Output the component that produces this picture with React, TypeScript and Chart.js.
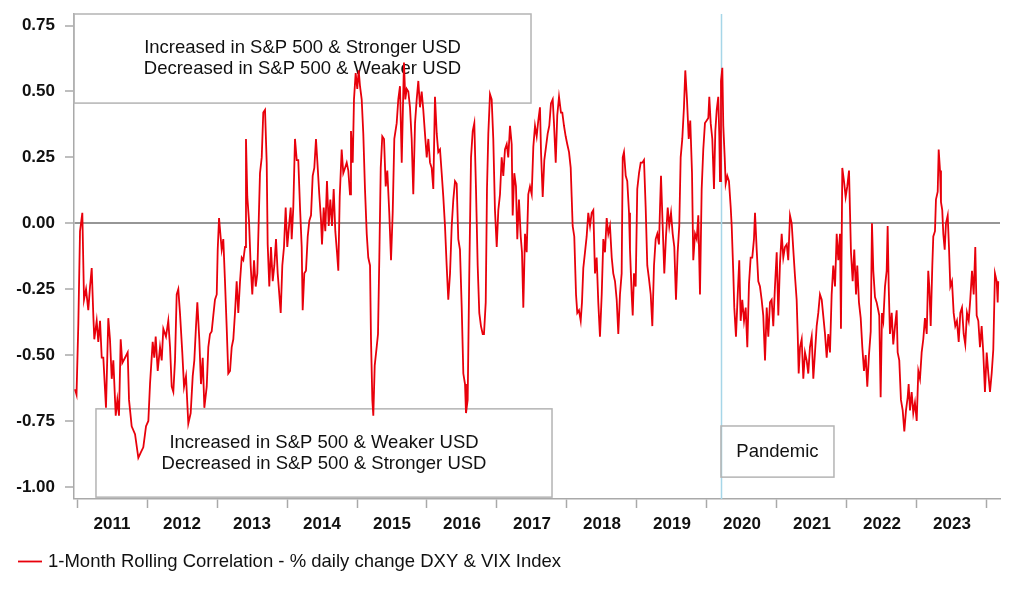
import React, { useEffect, useRef } from "react";
import { Chart, registerables } from "chart.js";

Chart.register(...registerables);

// Decimal-year dates of the readings
const dates: number[] = [
  2010.971, 2010.993, 2011.019, 2011.043, 2011.076, 2011.100, 2011.129, 2011.161, 2011.186, 2011.210,
  2011.233, 2011.247, 2011.281, 2011.304, 2011.329, 2011.353, 2011.376, 2011.400, 2011.414, 2011.447,
  2011.471, 2011.496, 2011.519, 2011.553, 2011.576, 2011.600, 2011.624, 2011.647, 2011.686, 2011.724,
  2011.743, 2011.781, 2011.829, 2011.876, 2011.910, 2011.947, 2011.986, 2012.019, 2012.043, 2012.081,
  2012.104, 2012.124, 2012.153, 2012.186, 2012.210, 2012.233, 2012.271, 2012.304, 2012.329, 2012.353,
  2012.376, 2012.400, 2012.424, 2012.447, 2012.471, 2012.504, 2012.529, 2012.557, 2012.590, 2012.624,
  2012.653, 2012.676, 2012.700, 2012.719, 2012.747, 2012.771, 2012.796, 2012.819, 2012.853, 2012.876,
  2012.900, 2012.924, 2012.947, 2012.971, 2012.996, 2013.010, 2013.029,
  2013.067, 2013.090, 2013.114, 2013.139, 2013.161, 2013.186, 2013.210, 2013.233, 2013.257, 2013.281,
  2013.304, 2013.329, 2013.353, 2013.376, 2013.400, 2013.414, 2013.433, 2013.457, 2013.481, 2013.504,
  2013.529, 2013.553, 2013.576, 2013.596, 2013.614, 2013.639, 2013.661, 2013.686, 2013.710, 2013.724,
  2013.747, 2013.771, 2013.796, 2013.819, 2013.843, 2013.867, 2013.890, 2013.910, 2013.933, 2013.957,
  2013.981, 2014.004, 2014.029, 2014.053, 2014.067, 2014.090, 2014.114, 2014.139, 2014.161, 2014.186,
  2014.210, 2014.224, 2014.247, 2014.271, 2014.296, 2014.319, 2014.343, 2014.367, 2014.390, 2014.414,
  2014.439, 2014.461, 2014.486, 2014.500, 2014.524, 2014.547, 2014.571, 2014.596, 2014.619, 2014.643,
  2014.667, 2014.690, 2014.714, 2014.733, 2014.753,
  2014.781, 2014.804, 2014.829, 2014.853, 2014.876, 2014.900, 2014.914, 2014.939, 2014.957, 2014.981,
  2015.004, 2015.024, 2015.043, 2015.067, 2015.090, 2015.114, 2015.139, 2015.161, 2015.186, 2015.200,
  2015.219, 2015.233, 2015.253, 2015.281, 2015.300, 2015.319, 2015.339, 2015.361, 2015.386, 2015.410,
  2015.433, 2015.461, 2015.486, 2015.510, 2015.533, 2015.567, 2015.590, 2015.614, 2015.639, 2015.653,
  2015.671, 2015.690, 2015.710, 2015.733, 2015.757, 2015.781, 2015.804, 2015.829, 2015.853, 2015.876,
  2015.900, 2015.924, 2015.947, 2015.971, 2015.996, 2016.019, 2016.043, 2016.067, 2016.090, 2016.114,
  2016.139, 2016.161, 2016.186, 2016.210, 2016.233, 2016.257, 2016.281, 2016.304, 2016.329, 2016.353,
  2016.376, 2016.400, 2016.424, 2016.447, 2016.471, 2016.496, 2016.519, 2016.543, 2016.557, 2016.581,
  2016.604, 2016.629, 2016.653, 2016.676, 2016.700, 2016.724, 2016.747,
  2016.771, 2016.796, 2016.814, 2016.839, 2016.857, 2016.876, 2016.900, 2016.924, 2016.947, 2016.971,
  2016.996, 2017.019, 2017.043, 2017.067, 2017.090, 2017.114, 2017.139, 2017.161, 2017.186, 2017.210,
  2017.224, 2017.247, 2017.271, 2017.290, 2017.314, 2017.339, 2017.357, 2017.376, 2017.400, 2017.424,
  2017.447, 2017.471, 2017.496, 2017.519, 2017.543, 2017.567, 2017.590, 2017.614, 2017.629, 2017.653,
  2017.676, 2017.700, 2017.724, 2017.747, 2017.771, 2017.796, 2017.814, 2017.839, 2017.861, 2017.886,
  2017.914, 2017.933, 2017.957, 2017.981, 2018.004, 2018.029, 2018.053, 2018.067, 2018.081, 2018.104,
  2018.129, 2018.147, 2018.171, 2018.196, 2018.214, 2018.233, 2018.257, 2018.281, 2018.304, 2018.329,
  2018.353, 2018.376, 2018.400, 2018.424, 2018.447, 2018.471, 2018.496, 2018.519, 2018.543, 2018.567,
  2018.590, 2018.614, 2018.639, 2018.661, 2018.686, 2018.710, 2018.733, 2018.757, 2018.781, 2018.796,
  2018.814, 2018.839, 2018.861, 2018.886, 2018.900, 2018.924, 2018.939, 2018.957, 2018.981, 2019.004,
  2019.029, 2019.053, 2019.076, 2019.100, 2019.124, 2019.147, 2019.171, 2019.196, 2019.219, 2019.243,
  2019.267, 2019.290, 2019.314, 2019.329, 2019.343, 2019.367, 2019.390, 2019.414, 2019.439, 2019.461,
  2019.486, 2019.510, 2019.533, 2019.557, 2019.581, 2019.604, 2019.624, 2019.647, 2019.671, 2019.690,
  2019.714, 2019.739, 2019.761, 2019.786, 2019.804, 2019.829, 2019.853, 2019.876, 2019.900, 2019.924,
  2019.947, 2019.971, 2019.996, 2020.019, 2020.033, 2020.053, 2020.076, 2020.100, 2020.119, 2020.139,
  2020.161, 2020.176, 2020.186, 2020.200, 2020.219, 2020.233, 2020.253, 2020.267, 2020.290, 2020.314,
  2020.339, 2020.353, 2020.376, 2020.390, 2020.414, 2020.439, 2020.461,
  2020.481, 2020.504, 2020.529, 2020.553, 2020.576, 2020.600, 2020.624, 2020.647, 2020.671, 2020.686,
  2020.710, 2020.733, 2020.757, 2020.781, 2020.804, 2020.829, 2020.853, 2020.876, 2020.900, 2020.924,
  2020.947, 2020.971, 2020.996, 2021.019, 2021.043, 2021.067, 2021.090, 2021.114, 2021.139, 2021.161,
  2021.186, 2021.210, 2021.233, 2021.257, 2021.281, 2021.296, 2021.310, 2021.329, 2021.353, 2021.376,
  2021.400, 2021.424, 2021.447, 2021.471, 2021.496, 2021.519, 2021.543, 2021.567, 2021.590, 2021.614,
  2021.639, 2021.661, 2021.686, 2021.710, 2021.733, 2021.757, 2021.781, 2021.804, 2021.829, 2021.853,
  2021.876, 2021.900, 2021.914, 2021.933, 2021.957, 2021.981, 2022.004, 2022.029,
  2022.057, 2022.081, 2022.104, 2022.129, 2022.147, 2022.171, 2022.196, 2022.219, 2022.243, 2022.267,
  2022.290, 2022.314, 2022.339, 2022.357, 2022.376, 2022.400, 2022.424, 2022.447, 2022.461, 2022.481,
  2022.500, 2022.519, 2022.543, 2022.567, 2022.581, 2022.596, 2022.614, 2022.639, 2022.661, 2022.686,
  2022.710, 2022.724, 2022.747, 2022.771, 2022.796, 2022.819, 2022.843, 2022.867, 2022.881, 2022.900,
  2022.924, 2022.947, 2022.971, 2022.996, 2023.019, 2023.043, 2023.067, 2023.090, 2023.114, 2023.139,
  2023.161, 2023.176, 2023.196, 2023.219, 2023.233, 2023.257, 2023.271, 2023.296, 2023.310, 2023.329,
  2023.343, 2023.361, 2023.376, 2023.396, 2023.414, 2023.439, 2023.457, 2023.476, 2023.500, 2023.524,
  2023.547, 2023.571, 2023.596, 2023.619, 2023.643, 2023.667, 2023.690, 2023.714, 2023.739, 2023.761,
  2023.786, 2023.810, 2023.833, 2023.853, 2023.876, 2023.900, 2023.924, 2023.947, 2023.971, 2023.996,
  2024.019, 2024.043, 2024.067, 2024.090, 2024.114, 2024.139, 2024.153, 2024.161,
];

// 1-month rolling correlation readings
const corr: number[] = [
  -0.63, -0.65, -0.38, -0.03, 0.04, -0.29, -0.25, -0.33, -0.24, -0.17,
  -0.35, -0.44, -0.37, -0.45, -0.37, -0.51, -0.51, -0.63, -0.70, -0.36,
  -0.44, -0.59, -0.52, -0.73, -0.67, -0.73, -0.44, -0.53, -0.51, -0.49,
  -0.67, -0.77, -0.80, -0.89, -0.87, -0.85, -0.77, -0.75, -0.61, -0.45,
  -0.51, -0.43, -0.56, -0.47, -0.52, -0.40, -0.43, -0.37, -0.47, -0.62,
  -0.64, -0.52, -0.27, -0.25, -0.34, -0.49, -0.62, -0.58, -0.76, -0.72,
  -0.58, -0.52, -0.39, -0.30, -0.44, -0.61, -0.51, -0.70, -0.62, -0.47,
  -0.42, -0.41, -0.35, -0.29, -0.27, -0.10, 0.02,
  -0.10, -0.06, -0.22, -0.40, -0.57, -0.56, -0.47, -0.44, -0.34, -0.22,
  -0.34, -0.22, -0.13, -0.14, -0.09, 0.32, 0.10, 0.01, -0.16, -0.27,
  -0.14, -0.24, -0.19, 0.01, 0.19, 0.25, 0.42, 0.43, 0.23, -0.08,
  -0.24, -0.09, -0.22, -0.16, -0.06, -0.19, -0.27, -0.34, -0.16, -0.09,
  0.06, -0.09, -0.01, 0.06, -0.06, 0.06, 0.32, 0.24, 0.24, 0.06,
  -0.09, -0.33, -0.19, -0.18, -0.05, 0.01, 0.03, 0.18, 0.21, 0.32,
  0.21, 0.11, 0.01, -0.08, 0.06, -0.03, 0.16, -0.01, 0.09, -0.01,
  0.13, -0.03, -0.11, -0.18, 0.10,
  0.28, 0.19, 0.21, 0.23, 0.20, 0.11, 0.35, 0.23, 0.47, 0.57,
  0.51, 0.58, 0.52, 0.47, 0.34, 0.13, -0.04, -0.13, -0.16, -0.44,
  -0.67, -0.73, -0.54, -0.47, -0.42, -0.13, 0.21, 0.33, 0.32, 0.14,
  0.20, 0.04, -0.14, 0.04, 0.32, 0.38, 0.47, 0.52, 0.23, 0.40,
  0.61, 0.47, 0.51, 0.50, 0.44, 0.32, 0.11, 0.38, 0.47, 0.54,
  0.44, 0.50, 0.43, 0.34, 0.25, 0.32, 0.23, 0.21, 0.13, 0.48,
  0.34, 0.27, 0.28, 0.19, 0.10, -0.01, -0.16, -0.29, -0.19, -0.01,
  0.09, 0.16, 0.15, -0.06, -0.10, -0.32, -0.57, -0.61, -0.72, -0.67,
  -0.19, 0.25, 0.35, 0.38, 0.13, -0.16, -0.34,
  -0.39, -0.42, -0.42, -0.30, 0.13, 0.34, 0.49, 0.47, 0.32, 0.05,
  -0.09, 0.05, 0.11, 0.25, 0.18, 0.28, 0.30, 0.25, 0.37, 0.30,
  0.03, 0.19, 0.14, -0.06, 0.09, -0.05, -0.11, -0.32, -0.04, -0.11,
  0.11, 0.14, 0.11, 0.29, 0.37, 0.33, 0.39, 0.44, 0.27, 0.10,
  0.24, 0.29, 0.34, 0.37, 0.455, 0.47, 0.38, 0.23, 0.41, 0.48,
  0.42, 0.42, 0.37, 0.33, 0.30, 0.27, 0.21, 0.10, -0.01, -0.05,
  -0.27, -0.34, -0.33, -0.37, -0.30, -0.17, -0.11, -0.05, 0.04, -0.01,
  0.04, 0.05, -0.19, -0.13, -0.30, -0.43, -0.27, -0.06, -0.11, 0.02,
  -0.04, -0.01, -0.13, -0.19, -0.22, -0.29, -0.42, -0.27, -0.19, 0.25,
  0.27, 0.18, 0.16, 0.04, -0.10, -0.27, -0.35, -0.19, -0.24, 0.13,
  0.19, 0.23, 0.23, 0.24, 0.06, -0.16, -0.21, -0.27, -0.39, -0.16,
  -0.06, -0.04, -0.08, 0.06, 0.18, -0.01, -0.19, -0.05, 0.06, -0.01,
  0.04, -0.04, -0.09, -0.29, -0.11, -0.01, 0.25, 0.32, 0.44, 0.58,
  0.47, 0.32, 0.39, 0.19, -0.14, -0.04, -0.06, 0.03, -0.27, 0.13,
  0.28, 0.38, 0.39, 0.40, 0.48, 0.38, 0.32, 0.13, 0.35, 0.43,
  0.48, 0.33, 0.16, 0.54, 0.59, 0.37, 0.25, 0.15, 0.18, 0.16,
  0.06, -0.01, -0.19, -0.32, -0.43, -0.27, -0.14,
  -0.37, -0.29, -0.37, -0.32, -0.47, -0.23, -0.13, -0.13, -0.06, 0.04,
  -0.10, -0.22, -0.24, -0.29, -0.35, -0.52, -0.32, -0.43, -0.30, -0.29,
  -0.39, -0.24, -0.11, -0.35, -0.15, -0.04, -0.13, -0.09, -0.08, -0.14,
  0.03, 0.00, -0.10, -0.20, -0.29, -0.42, -0.57, -0.47, -0.44, -0.59,
  -0.49, -0.52, -0.57, -0.47, -0.43, -0.59, -0.49, -0.39, -0.34, -0.27,
  -0.29, -0.35, -0.42, -0.51, -0.42, -0.49, -0.27, -0.16, -0.24, -0.04,
  -0.14, -0.04, -0.40, 0.21, 0.16, 0.10, 0.14, 0.20,
  -0.11, -0.22, -0.10, -0.27, -0.16, -0.30, -0.36, -0.47, -0.56, -0.50,
  -0.62, -0.50, -0.41, 0.00, -0.18, -0.28, -0.30, -0.33, -0.35, -0.66,
  -0.34, -0.37, -0.24, -0.18, -0.01, -0.24, -0.42, -0.34, -0.46, -0.39,
  -0.33, -0.49, -0.52, -0.67, -0.71, -0.79, -0.71, -0.66, -0.61, -0.71,
  -0.64, -0.72, -0.68, -0.75, -0.56, -0.59, -0.49, -0.44, -0.36, -0.42,
  -0.18, -0.24, -0.39, -0.16, -0.05, -0.03, 0.09, 0.12, 0.28, 0.20,
  0.08, 0.05, -0.04, -0.10, 0.00, 0.03, -0.09, -0.24, -0.22, -0.34,
  -0.39, -0.37, -0.45, -0.34, -0.32, -0.42, -0.46, -0.34, -0.37, -0.29,
  -0.18, -0.27, -0.09, -0.35, -0.37, -0.47, -0.39, -0.49, -0.64, -0.49,
  -0.57, -0.64, -0.57, -0.48, -0.19, -0.22, -0.30, -0.22,
];

const yTicks: number[] = [-1, -0.75, -0.5, -0.25, 0, 0.25, 0.5, 0.75];
const yearTicks: number[] = [2011, 2012, 2013, 2014, 2015, 2016, 2017, 2018, 2019, 2020, 2021, 2022, 2023, 2024];
const yearLabels: string[] = ["2011", "2012", "2013", "2014", "2015", "2016", "2017", "2018", "2019", "2020", "2021", "2022", "2023"];
const seriesLabel = "1-Month Rolling Correlation - % daily change DXY & VIX Index";
const topBoxLines: string[] = ["Increased in S&P 500 & Stronger USD", "Decreased in S&P 500 & Weaker USD"];
const bottomBoxLines: string[] = ["Increased in S&P 500 & Weaker USD", "Decreased in S&P 500 & Stronger USD"];
const pandemicLines: string[] = ["Pandemic"];
const pandemicDate = 2020.2;

const FONT = "'Liberation Sans', Arial, Helvetica, sans-serif";
const RED = "#e8000b";
const AXIS_GRAY = "#a9a9a9";
const BOX_GRAY = "#b4b4b4";

export default function App() {
  const canvasRef = useRef<HTMLCanvasElement | null>(null);

  useEffect(() => {
    document.body.style.margin = "0";
    const canvas = canvasRef.current;
    if (!canvas) return;

    const X_MIN = 2010.957;
    const X_MAX = 2024.186;
    const Y_MIN = -1.046;
    const Y_MAX = 0.794;

    const boxes = [
      { x0: X_MIN, x1: 2017.486, y0: Y_MAX, y1: 0.456, lines: topBoxLines },
      { x0: 2011.271, x1: 2017.786, y0: -0.704, y1: -1.039, lines: bottomBoxLines },
      { x0: 2020.2, x1: 2021.814, y0: -0.769, y1: -0.963, lines: pandemicLines },
    ];

    const annotationPlugin = {
      id: "annotations",
      beforeDatasetsDraw(chart: any) {
        const ctx = chart.ctx as CanvasRenderingContext2D;
        const xs = chart.scales.x;
        const ys = chart.scales.y;
        const area = chart.chartArea;
        ctx.save();
        // pandemic vertical line
        const px = Math.round(xs.getPixelForValue(pandemicDate)) + 0.5;
        ctx.strokeStyle = "#a6d6e8";
        ctx.lineWidth = 1.5;
        ctx.beginPath();
        ctx.moveTo(px, area.top);
        ctx.lineTo(px, area.bottom);
        ctx.stroke();
        // boxes and text
        for (const b of boxes) {
          const l = xs.getPixelForValue(b.x0);
          const r = xs.getPixelForValue(b.x1);
          const t = ys.getPixelForValue(b.y0);
          const bt = ys.getPixelForValue(b.y1);
          ctx.strokeStyle = BOX_GRAY;
          ctx.lineWidth = 1.5;
          ctx.strokeRect(l, t, r - l, bt - t);
          ctx.fillStyle = "#111";
          ctx.font = `18.5px ${FONT}`;
          ctx.textAlign = "center";
          ctx.textBaseline = "middle";
          const cx = (l + r) / 2;
          const cy = (t + bt) / 2;
          const lh = 21;
          const n = b.lines.length;
          b.lines.forEach((line, i) => {
            ctx.fillText(line, cx, cy + (i - (n - 1) / 2) * lh);
          });
        }
        ctx.restore();
      },
      afterDraw(chart: any) {
        const ctx = chart.ctx as CanvasRenderingContext2D;
        ctx.save();
        const ly = 561.5;
        ctx.strokeStyle = RED;
        ctx.lineWidth = 1.8;
        ctx.beginPath();
        ctx.moveTo(18, ly);
        ctx.lineTo(42, ly);
        ctx.stroke();
        ctx.fillStyle = "#111";
        ctx.font = `18.5px ${FONT}`;
        ctx.textAlign = "left";
        ctx.textBaseline = "middle";
        ctx.fillText(seriesLabel, 48, ly);
        ctx.restore();
      },
    };

    const chart = new Chart(canvas, {
      type: "line",
      data: {
        datasets: [
          {
            label: seriesLabel,
            data: dates.map((d, i) => ({ x: d, y: corr[i] })),
            borderColor: RED,
            backgroundColor: RED,
            borderWidth: 1.8,
            pointRadius: 0,
            tension: 0,
            fill: false,
          },
        ],
      },
      options: {
        animation: false,
        responsive: false,
        devicePixelRatio: 1,
        layout: { padding: { left: 0, top: 14, right: 22, bottom: 0 } },
        plugins: {
          legend: { display: false },
          tooltip: { enabled: false },
        },
        scales: {
          x: {
            type: "linear",
            min: X_MIN,
            max: X_MAX,
            afterBuildTicks: (scale: any) => {
              const t: any[] = [];
              yearTicks.forEach((y, i) => {
                t.push({ value: y });
                if (i < yearLabels.length) t.push({ value: y + 0.5 });
              });
              scale.ticks = t;
            },
            afterFit: (scale: any) => {
              scale.height = 98;
              scale.paddingLeft = 0;
              scale.paddingRight = 0;
            },
            ticks: {
              autoSkip: false,
              maxRotation: 0,
              minRotation: 0,
              padding: 6,
              color: "#111",
              font: { family: FONT, size: 17, weight: "bold" },
              callback: (value: any) => {
                const v = Number(value);
                if (Math.abs(v - Math.round(v)) < 1e-6) return "";
                const idx = Math.floor(v) - yearTicks[0];
                return yearLabels[idx] ?? "";
              },
            },
            grid: {
              display: true,
              drawOnChartArea: false,
              drawTicks: true,
              tickLength: 9,
              tickWidth: 1.5,
              tickColor: (ctx: any) => {
                const v = ctx.tick ? ctx.tick.value : 0;
                return Math.abs(v - Math.round(v)) < 1e-6 ? AXIS_GRAY : "rgba(0,0,0,0)";
              },
            },
            border: { display: true, color: AXIS_GRAY, width: 1.5 },
          },
          y: {
            type: "linear",
            min: Y_MIN,
            max: Y_MAX,
            afterBuildTicks: (scale: any) => {
              scale.ticks = yTicks.map((v) => ({ value: v }));
            },
            afterFit: (scale: any) => {
              scale.width = 74;
              scale.paddingTop = 0;
              scale.paddingBottom = 0;
            },
            ticks: {
              padding: 10,
              color: "#111",
              font: { family: FONT, size: 17, weight: "bold" },
              callback: (value: any) => Number(value).toFixed(2),
            },
            grid: {
              display: true,
              drawOnChartArea: true,
              drawTicks: true,
              tickLength: 9,
              tickWidth: 1.5,
              tickColor: AXIS_GRAY,
              color: (ctx: any) => (ctx.tick && Math.abs(ctx.tick.value) < 1e-9 ? "#969696" : "rgba(0,0,0,0)"),
              lineWidth: (ctx: any) => (ctx.tick && Math.abs(ctx.tick.value) < 1e-9 ? 2 : 0),
            },
            border: { display: true, color: AXIS_GRAY, width: 1.5 },
          },
        },
      },
      plugins: [annotationPlugin],
    });

    return () => {
      chart.destroy();
    };
  }, []);

  return (
    <div style={{ width: 1022, height: 597, background: "#fff" }}>
      <canvas ref={canvasRef} width={1022} height={597} style={{ display: "block" }} />
    </div>
  );
}
